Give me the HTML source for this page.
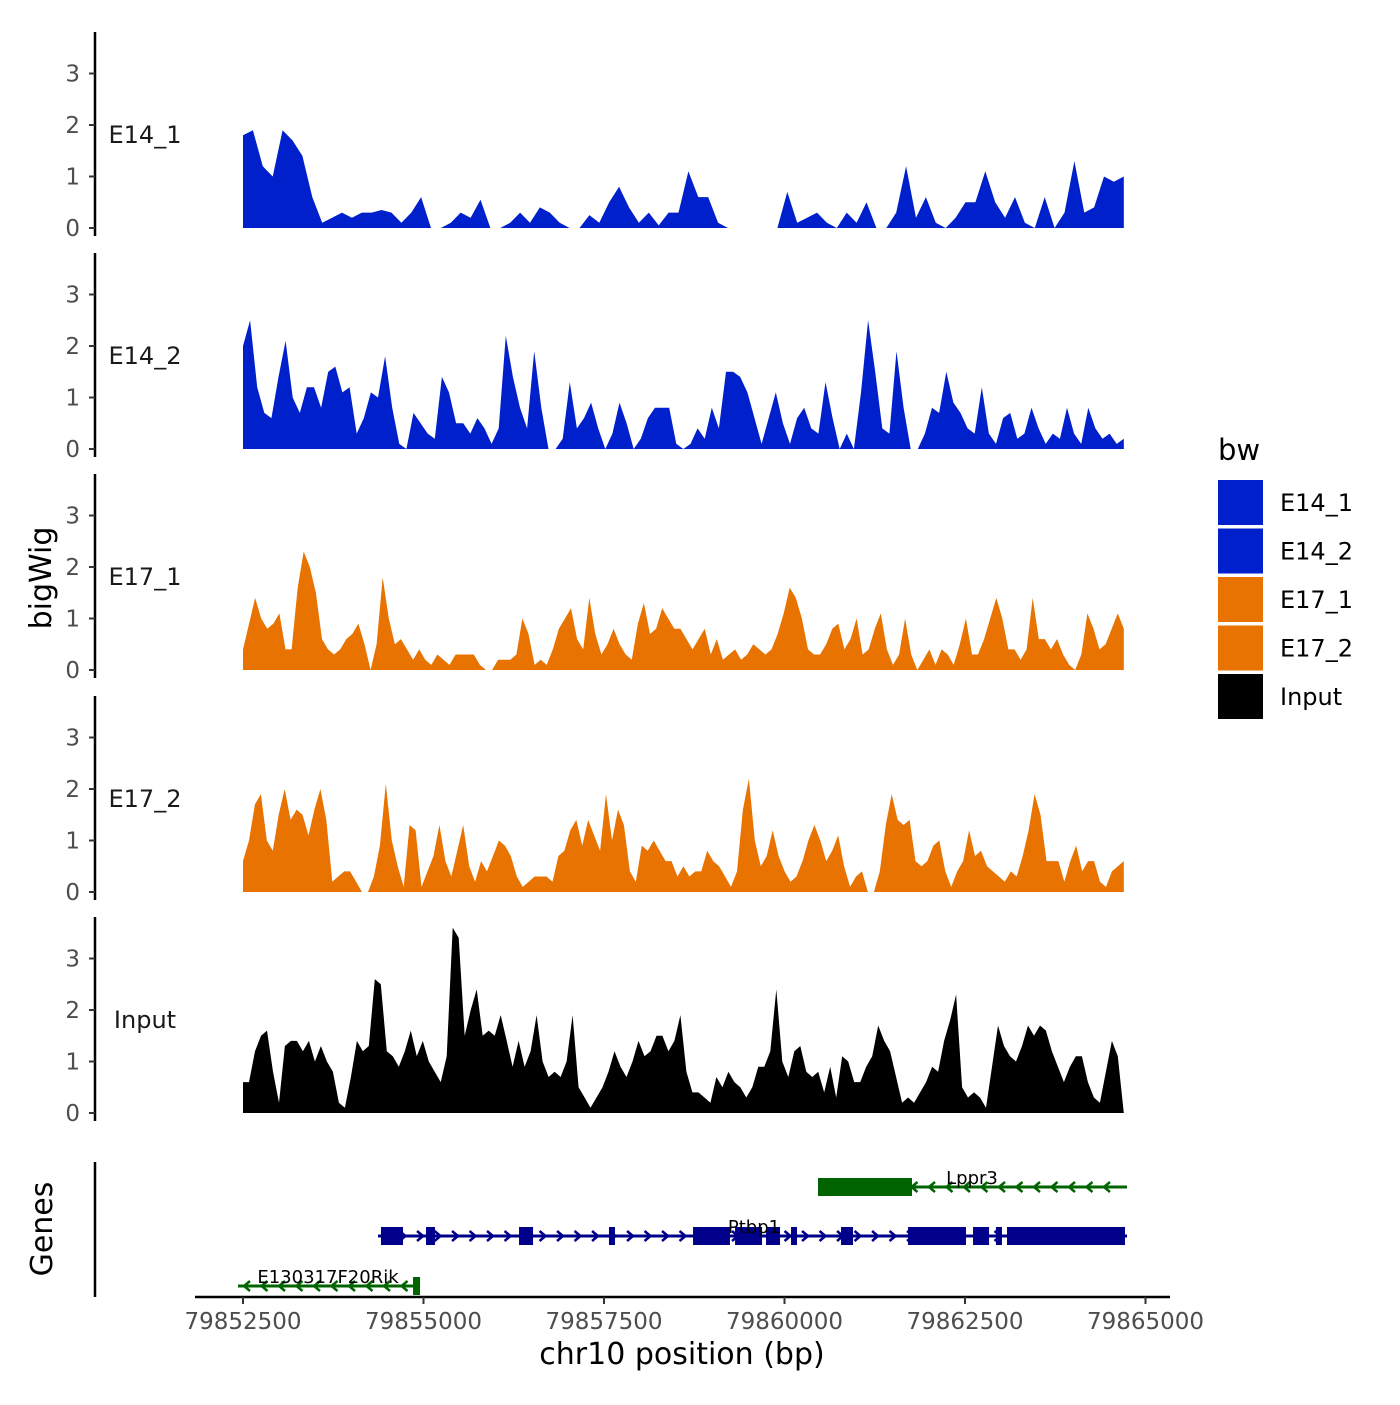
<!DOCTYPE html>
<html><head><meta charset="utf-8"><style>
body{margin:0;background:#fff;}
svg{font-family:"DejaVu Sans","Liberation Sans",sans-serif;}
</style></head><body>
<svg id="chart" width="1400" height="1400" viewBox="0 0 1400 1400">
<g id="tracks"></g>
<g id="genes"></g>
<g id="xaxis"></g>
<text x="51" y="578" transform="rotate(-90 51 578)" text-anchor="middle" font-size="30">bigWig</text>
<text x="52" y="1229" transform="rotate(-90 52 1229)" text-anchor="middle" font-size="30">Genes</text>
<text x="682" y="1364" text-anchor="middle" font-size="30">chr10 position (bp)</text>
<g id="legend"></g>
</svg>
<script>
const trackNames=["E14_1","E14_2","E17_1","E17_2","Input"];
const trackColors=["#0020cc","#0020cc","#e87300","#e87300","#000000"];
const legendNames=["E14_1","E14_2","E17_1","E17_2","Input"];
const yTicks=[0,1,2,3];
const xTicks=[79852500,79855000,79857500,79860000,79862500,79865000];
const xTickLabels=["79852500","79855000","79857500","79860000","79862500","79865000"];
const signalStart=79852500, signalEnd=79864700;
const e14_1=[1.8,1.9,1.2,1.0,1.9,1.7,1.4,0.6,0.1,0.2,0.3,0.2,0.3,0.3,0.35,0.3,0.1,0.3,0.6,0,0,0.1,0.3,0.2,0.55,0,0,0.1,0.3,0.1,0.4,0.3,0.1,0,0,0.25,0.1,0.5,0.8,0.4,0.1,0.3,0.05,0.3,0.3,1.1,0.6,0.6,0.1,0,0,0,0,0,0,0.7,0.1,0.2,0.3,0.1,0,0.3,0.1,0.5,0,0,0.3,1.2,0.2,0.6,0.1,0,0.2,0.5,0.5,1.1,0.5,0.2,0.6,0.1,0,0.6,0,0.3,1.3,0.3,0.4,1.0,0.9,1.0];
const e14_2=[2.0,2.5,1.2,0.7,0.6,1.4,2.1,1.0,0.7,1.2,1.2,0.8,1.5,1.6,1.1,1.2,0.3,0.6,1.1,1.0,1.8,0.8,0.1,0,0.7,0.5,0.3,0.2,1.4,1.1,0.5,0.5,0.3,0.6,0.4,0.1,0.4,2.2,1.4,0.8,0.4,1.9,0.8,0,0,0.2,1.3,0.4,0.6,0.9,0.4,0,0.3,0.9,0.5,0,0.2,0.6,0.8,0.8,0.8,0.1,0,0.1,0.4,0.2,0.8,0.4,1.5,1.5,1.4,1.1,0.6,0.1,0.6,1.1,0.5,0.1,0.6,0.8,0.4,0.3,1.3,0.6,0,0.3,0,1.1,2.5,1.5,0.4,0.3,1.9,0.8,0,0,0.3,0.8,0.7,1.5,0.9,0.7,0.4,0.3,1.2,0.3,0.1,0.6,0.7,0.2,0.3,0.8,0.4,0.1,0.3,0.2,0.8,0.3,0.1,0.8,0.4,0.2,0.3,0.1,0.2];
const e17_1=[0.4,0.9,1.4,1.0,0.8,0.9,1.1,0.4,0.4,1.6,2.3,2.0,1.5,0.6,0.4,0.3,0.4,0.6,0.7,0.9,0.5,0,0.5,1.8,1.0,0.5,0.6,0.4,0.2,0.4,0.2,0.1,0.3,0.2,0.1,0.3,0.3,0.3,0.3,0.1,0,0,0.2,0.2,0.2,0.3,1.0,0.7,0.1,0.2,0.1,0.4,0.8,1.0,1.2,0.6,0.4,1.4,0.7,0.3,0.5,0.8,0.5,0.3,0.2,0.9,1.3,0.7,0.8,1.2,1.0,0.8,0.8,0.6,0.4,0.6,0.8,0.3,0.6,0.2,0.3,0.4,0.2,0.3,0.5,0.4,0.3,0.4,0.7,1.1,1.6,1.4,1.0,0.4,0.3,0.3,0.5,0.8,0.9,0.4,0.6,1.0,0.3,0.4,0.8,1.1,0.4,0.1,0.3,1.0,0.3,0,0.2,0.4,0.1,0.4,0.3,0.1,0.5,1.0,0.3,0.3,0.6,1.0,1.4,1.0,0.4,0.4,0.2,0.4,1.4,0.6,0.6,0.4,0.6,0.3,0.1,0,0.3,1.1,0.8,0.4,0.5,0.8,1.1,0.8];
const e17_2=[0.6,1.0,1.7,1.9,1.0,0.8,1.5,2.0,1.4,1.6,1.5,1.1,1.6,2.0,1.4,0.2,0.3,0.4,0.4,0.2,0,0,0.3,0.9,2.1,1.0,0.5,0.1,1.3,1.2,0.1,0.4,0.7,1.3,0.6,0.3,0.8,1.3,0.5,0.2,0.6,0.4,0.7,1.0,0.9,0.7,0.3,0.1,0.2,0.3,0.3,0.3,0.2,0.7,0.8,1.2,1.4,0.9,1.4,1.1,0.8,1.9,1.0,1.6,1.3,0.4,0.2,0.9,0.8,1.0,0.8,0.6,0.6,0.3,0.5,0.3,0.4,0.4,0.8,0.6,0.5,0.3,0.1,0.4,1.6,2.2,1.0,0.5,0.7,1.2,0.7,0.4,0.2,0.3,0.6,1.0,1.3,1.0,0.6,0.8,1.1,0.5,0.1,0.3,0.4,0,0,0.4,1.3,1.9,1.4,1.3,1.4,0.6,0.5,0.6,0.9,1.0,0.4,0.1,0.4,0.6,1.2,0.7,0.8,0.5,0.4,0.3,0.2,0.4,0.3,0.7,1.2,1.9,1.5,0.6,0.6,0.6,0.2,0.6,0.9,0.4,0.6,0.6,0.2,0.1,0.4,0.5,0.6];
const input=[0.6,0.6,1.2,1.5,1.6,0.8,0.2,1.3,1.4,1.4,1.2,1.4,1.0,1.3,1.0,0.8,0.2,0.1,0.7,1.4,1.2,1.3,2.6,2.5,1.2,1.1,0.9,1.2,1.6,1.1,1.4,1.0,0.8,0.6,1.1,3.6,3.4,1.5,2.0,2.4,1.5,1.6,1.5,1.9,1.4,0.9,1.4,0.9,1.2,1.9,1.0,0.7,0.8,0.7,1.0,1.9,0.5,0.3,0.1,0.3,0.5,0.8,1.2,0.9,0.7,1.0,1.4,1.1,1.2,1.5,1.5,1.2,1.4,1.9,0.8,0.4,0.4,0.3,0.2,0.7,0.5,0.8,0.6,0.5,0.3,0.5,0.9,0.9,1.2,2.4,1.0,0.7,1.2,1.3,0.8,0.7,0.8,0.4,0.9,0.3,1.1,1.0,0.6,0.6,0.9,1.1,1.7,1.4,1.2,0.7,0.2,0.3,0.2,0.4,0.6,0.9,0.8,1.4,1.8,2.3,0.5,0.3,0.4,0.3,0.1,0.9,1.7,1.3,1.1,1.0,1.3,1.7,1.5,1.7,1.6,1.2,0.9,0.6,0.9,1.1,1.1,0.6,0.3,0.2,0.8,1.4,1.1,0];
const trackValues=[e14_1,e14_2,e17_1,e17_2,input];
const geneNames=["Lppr3","Ptbp1","E130317F20Rik"];
const geneStarts=[79860464,79854370,79852431];
const geneEnds=[79864744,79864744,79854952];
const geneStrand=[-1,1,-1];
const geneColors=["#006400","#00008b","#006400"];
const geneExons=[[[79860464,79861766]],[[79854411,79854716],[79855035,79855159],[79856323,79856517],[79857569,79857652],[79858733,79859245],[79859315,79859689],[79859744,79859938],[79860090,79860173],[79860783,79860949],[79861711,79862514],[79862611,79862833],[79862929,79863012],[79863082,79864716]],[[79854855,79854952]]];

const NS="http://www.w3.org/2000/svg";
function mk(t,a,p){const e=document.createElementNS(NS,t);for(const k in a)e.setAttribute(k,a[k]);p.appendChild(e);return e;}
const xScale=bp=>243+(bp-79852500)*180.5/2500;
const panelBase=[228,449,670,892,1113];
const yPx=51.5;
const tg=document.getElementById('tracks');
trackValues.forEach((vals,i)=>{
  const base=panelBase[i];
  const g=mk('g',{},tg);
  
  
  const step=(signalEnd-signalStart)/(vals.length-1);
  let d='M'+xScale(signalStart)+','+base;
  vals.forEach((v,j)=>{d+=' L'+xScale(signalStart+j*step).toFixed(1)+','+(base-v*yPx).toFixed(1);});
  d+=' L'+xScale(signalEnd)+','+base+' Z';
  const p=mk('path',{d:d,fill:trackColors[i]},g);
  
  
  const ax=mk('line',{x1:95,x2:95,y1:base-196,y2:base+8,stroke:'#000','stroke-width':2.5},g);
  
  
  yTicks.forEach(t=>{
    const y=base-t*yPx;
    mk('line',{x1:89,x2:95,y1:y,y2:y,stroke:'#333','stroke-width':2},g);
    const tx=mk('text',{x:80,y:y+8,'text-anchor':'end','font-size':23,fill:'#4d4d4d'},g);
    tx.textContent=t;
    
    
  });
  const lab=mk('text',{x:145,y:base-85,'text-anchor':'middle','font-size':24,fill:'#1a1a1a'},g);
  lab.textContent=trackNames[i];
  
  
});
// genes
const gg=document.getElementById('genes');
mk('line',{x1:95,x2:95,y1:1162,y2:1297,stroke:'#000','stroke-width':2.5},gg);
const geneY=[1187,1236,1286];
geneNames.forEach((n,i)=>{
  const y=geneY[i],c=geneColors[i];
  const g=mk('g',{},gg);
  
  
  const x1=xScale(geneStarts[i]),x2=xScale(geneEnds[i]);
  mk('line',{x1:x1,x2:x2,y1:y,y2:y,stroke:c,'stroke-width':3},g);
  for(let x=x1+8;x<x2-4;x+=17.5){
    const s=geneStrand[i];
    mk('polyline',{points:`${x-4*s},${y-5} ${x+2*s},${y} ${x-4*s},${y+5}`,fill:'none',stroke:c,'stroke-width':2.5},g);
  }
  geneExons[i].forEach(e=>{
    const a=xScale(e[0]),b=xScale(e[1]);
    mk('rect',{x:a,y:y-9,width:Math.max(b-a,3),height:18,fill:c},g);
  });
  const lx=i==0?972:(i==1?754:328);
  const t=mk('text',{x:lx,y:y-3,'text-anchor':'middle','font-size':18,fill:'#000'},g);
  t.textContent=n;
  
  
});
// x axis
const xg=document.getElementById('xaxis');
mk('line',{x1:195,x2:1170,y1:1297,y2:1297,stroke:'#000','stroke-width':2.5},xg);
xTicks.forEach((t,i)=>{
  const x=xScale(t);
  mk('line',{x1:x,x2:x,y1:1297,y2:1304,stroke:'#333','stroke-width':2},xg);
  const tx=mk('text',{x:x,y:1329,'text-anchor':'middle','font-size':23,fill:'#4d4d4d'},xg);
  tx.textContent=xTickLabels[i];
  
  
});
// legend
const lg=document.getElementById('legend');
const lt=mk('text',{x:1218,y:460,'font-size':29,fill:'#000'},lg);
lt.textContent='bw';
legendNames.forEach((n,i)=>{
  const y=480+i*48.5;
  const r=mk('rect',{x:1218,y:y,width:45,height:45,fill:trackColors[i]},lg);
  
  
  const t=mk('text',{x:1280,y:y+31,'font-size':24,fill:'#000'},lg);
  t.textContent=n;
  
  
});
</script>
</body></html>
